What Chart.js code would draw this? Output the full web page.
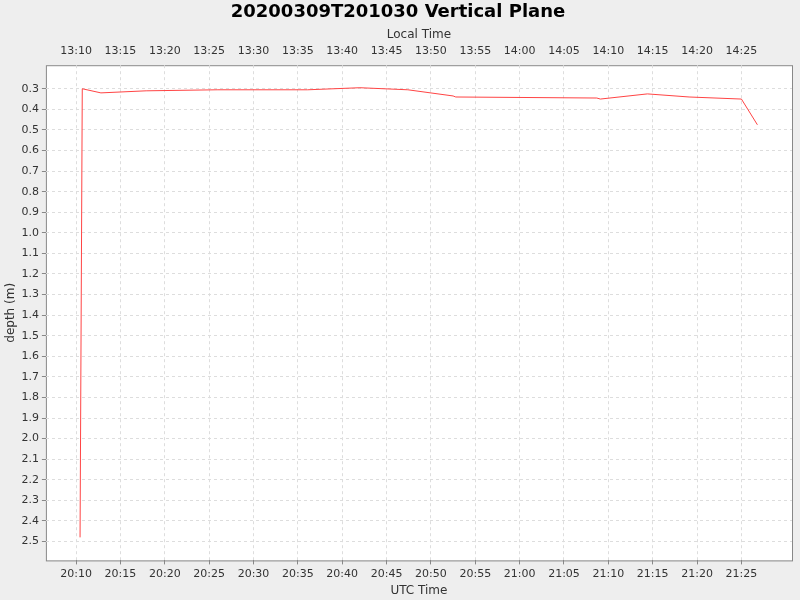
<!DOCTYPE html>
<html>
<head>
<meta charset="utf-8">
<script src="https://cdn.jsdelivr.net/npm/chart.js@4"></script>
<style>
  html, body { margin: 0; padding: 0; background: #eeeeee; }
  #wrap { width: 800px; height: 600px; }
</style>
</head>
<body>
<div id="wrap"><canvas id="chart"></canvas></div>
<script>
// minutes after 20:00 UTC
const timeMinutes = [10.45, 10.7, 12.8, 17.9, 25.9, 36.1, 42.0, 47.4, 52.5, 52.8, 68.7, 69.1, 74.4, 79.1, 85.0, 86.8];
const depths = [2.48, 0.30, 0.32, 0.31, 0.305, 0.305, 0.295, 0.305, 0.335, 0.34, 0.345, 0.35, 0.325, 0.34, 0.35, 0.475];
const utcHour = 20;
const localOffset = -7;

const fmt = (m, off) => {
    const h = utcHour + off + Math.floor(m / 60);
    const mm = Math.round(m % 60);
    return h + ':' + String(mm).padStart(2, '0');
};

const keepMultiples = (step) => (axis) => {
    axis.ticks = axis.ticks.filter((t) => Math.abs(t.value / step - Math.round(t.value / step)) < 1e-6);
};

const bgPlugin = {
    id: 'bg',
    beforeDraw: (chart) => {
        const c = chart.ctx, a = chart.chartArea;
        c.save();
        c.fillStyle = '#eeeeee';
        c.fillRect(0, 0, chart.width, chart.height);
        c.fillStyle = '#ffffff';
        c.fillRect(a.left, a.top, a.right - a.left, a.bottom - a.top);
        c.strokeStyle = '#888888';
        c.lineWidth = 1;
        c.strokeRect(a.left + 0.5, a.top + 0.5, a.right - a.left, a.bottom - a.top);
        c.restore();
    }
};

const font = { family: 'DejaVu Sans', size: 11 };
const grid = { color: '#dddddd', tickColor: '#888888', tickLength: 4, drawTicks: true };
const border = { dash: [3, 3], display: false };

new Chart(document.getElementById('chart'), {
    type: 'line',
    data: {
        datasets: [{
            data: timeMinutes.map((t, i) => ({ x: t, y: depths[i] })),
            borderColor: '#ff4444',
            borderWidth: 1,
            pointRadius: 0,
            tension: 0,
            xAxisID: 'x',
            yAxisID: 'y'
        }]
    },
    plugins: [bgPlugin],
    options: {
        responsive: true,
        maintainAspectRatio: false,
        animation: false,
        layout: { padding: { left: 4, right: 8, bottom: 2 } },
        plugins: {
            legend: { display: false },
            tooltip: { enabled: false },
            title: {
                display: true,
                text: '20200309T201030 Vertical Plane',
                color: '#000000',
                font: { family: 'DejaVu Sans', size: 18, weight: 'bold' },
                padding: { top: 2, bottom: 4 }
            }
        },
        scales: {
            x: {
                type: 'linear',
                position: 'bottom',
                min: 6.6, max: 90.7,
                afterBuildTicks: keepMultiples(5),
                ticks: { stepSize: 5, color: '#333333', font, maxRotation: 0, autoSkip: false,
                    callback: (v) => fmt(v, 0) },
                grid: { ...grid },
                border: { display: false, dash: [3, 3] },
                title: { display: true, text: 'UTC Time', color: '#333333', font: { family: 'DejaVu Sans', size: 12 }, padding: 0 }
            },
            x2: {
                type: 'linear',
                position: 'top',
                min: 6.6, max: 90.7,
                afterBuildTicks: keepMultiples(5),
                ticks: { stepSize: 5, color: '#333333', font, maxRotation: 0, autoSkip: false,
                    callback: (v) => fmt(v, localOffset) },
                grid: { display: false, tickColor: '#888888', tickLength: 4 },
                border: { display: false },
                title: { display: true, text: 'Local Time', color: '#333333', font: { family: 'DejaVu Sans', size: 12 }, padding: 0 }
            },
            y: {
                type: 'linear',
                reverse: true,
                min: 0.1855, max: 2.592,
                afterBuildTicks: keepMultiples(0.1),
                ticks: { stepSize: 0.1, color: '#333333', font, autoSkip: false,
                    callback: (v) => v.toFixed(1) },
                grid: { ...grid },
                border: { display: false, dash: [3, 3] },
                title: { display: true, text: 'depth (m)', color: '#333333', font: { family: 'DejaVu Sans', size: 12 }, padding: 0 }
            }
        }
    }
});
</script>
</body>
</html>
